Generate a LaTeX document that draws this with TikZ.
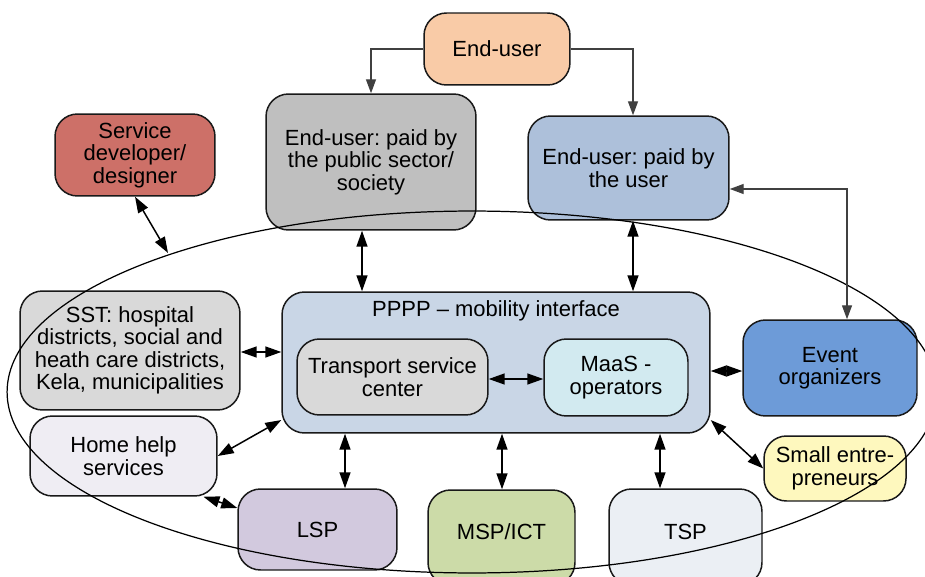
\documentclass[tikz,border=0pt]{standalone}
\usepackage{fontspec}
\setmainfont{Liberation Sans}
\frenchspacing
\usetikzlibrary{arrows.meta}
% cores das caixas
\definecolor{corUser}{RGB}{249,203,167}
\definecolor{corPublico}{RGB}{191,191,191}
\definecolor{corPago}{RGB}{173,192,218}
\definecolor{corDev}{RGB}{205,112,104}
\definecolor{corCinza}{RGB}{217,217,217}
\definecolor{corPPPP}{RGB}{201,214,230}
\definecolor{corMaaS}{RGB}{210,234,240}
\definecolor{corEvento}{RGB}{109,155,216}
\definecolor{corCasa}{RGB}{239,237,243}
\definecolor{corPequeno}{RGB}{254,248,190}
\definecolor{corLSP}{RGB}{210,201,222}
\definecolor{corMSP}{RGB}{204,219,168}
\definecolor{corTSP}{RGB}{235,239,244}
\tikzset{
  caixa/.style={draw=black!90, line width=0.85pt, rounded corners=0.45cm,
    align=center, inner sep=0pt, font=\fontsize{12.5}{12.8}\selectfont},
  seta/.style={line width=0.85pt,
    {Triangle[length=0.32cm,width=0.22cm]}-{Triangle[length=0.32cm,width=0.22cm]}},
  setacinza/.style={draw=black!75, line width=0.8pt,
    -{Triangle[length=0.28cm,width=0.2cm]}},
  setacinzadupla/.style={draw=black!75, line width=0.8pt,
    {Triangle[length=0.28cm,width=0.2cm]}-{Triangle[length=0.28cm,width=0.2cm]}},
}
\begin{document}
\begin{tikzpicture}[x=0.02cm, y=-0.02cm]
  % Moldura da figura
  \clip (0,0) rectangle (925,577);
  % Usuarios no topo
  \node[caixa, fill=corUser, minimum width=2.92cm, minimum height=1.44cm] (enduser) at (497,49) {End-user};
  \node[caixa, fill=corPublico, minimum width=4.2cm, minimum height=2.72cm] (publico) at (371,162) {End-user: paid by\\the public sector/\\society};
  \node[caixa, fill=corPago, minimum width=4.02cm, minimum height=2.08cm] (pago) at (628.5,168) {End-user: paid by\\the user};
  \node[caixa, fill=corDev, minimum width=3.2cm, minimum height=1.64cm] (dev) at (135,155) {Service\\developer/\\designer};
  % Interface central
  \node[caixa, fill=corPPPP, minimum width=8.56cm, minimum height=2.82cm] (pppp) at (496,362.5) {};
  \node[font=\fontsize{12.5}{12.8}\selectfont] (ppppt) at (496,311) {PPPP – mobility interface};
  \node[caixa, fill=corCinza, minimum width=3.82cm, minimum height=1.52cm] (centro) at (392.5,377) {Transport service\\center};
  \node[caixa, fill=corMaaS, minimum width=2.88cm, minimum height=1.54cm] (maas) at (616,377.5) {MaaS -\\operators};
  % Atores laterais
  \node[caixa, fill=corCinza, minimum width=4.4cm, minimum height=2.38cm] (sst) at (130,350.5) {SST: hospital\\districts, social and\\heath care districts,\\Kela, municipalities};
  \node[caixa, fill=corCasa, minimum width=3.74cm, minimum height=1.6cm] (casa) at (123.5,456) {Home help\\services};
  \node[caixa, fill=corEvento, minimum width=3.48cm, minimum height=1.92cm] (evento) at (830,368) {Event\\organizers};
  \node[caixa, fill=corPequeno, minimum width=2.84cm, minimum height=1.3cm] (pequeno) at (835,468.5) {Small entre-\\preneurs};
  % Provedores embaixo
  \node[caixa, fill=corLSP, minimum width=3.18cm, minimum height=1.62cm] (lsp) at (317.5,529.5) {LSP};
  \node[caixa, fill=corMSP, minimum width=2.94cm, minimum height=1.9cm] (msp) at (501.5,537.5) {};
  \node[font=\fontsize{12.5}{12.8}\selectfont] (mspt) at (501.5,532) {MSP/ICT};
  \node[caixa, fill=corTSP, minimum width=3.06cm, minimum height=1.92cm] (tsp) at (685.5,537) {};
  \node[font=\fontsize{12.5}{12.8}\selectfont] (tspt) at (685.5,532) {TSP};
  % Elipse do ecossistema
  \draw[line width=0.7pt] (472,392) ellipse [x radius=9.3cm, y radius=3.62cm];
  \coordinate (elipse) at (168,253);
  % Setas cinzas do usuario
  \draw[setacinza] (enduser.west) -| (publico.north);
  \draw[setacinza] (enduser.east) -| (pago.north -| 633,0);
  \draw[setacinzadupla] (pago.east |- 0,189) -| (evento.north -| 847,0);
  % Setas duplas
  \draw[seta] (dev.south) -- (elipse);
  \draw[seta] (publico.south -| 362,0) -- (pppp.north -| 362,0);
  \draw[seta] (pago.south -| 633,0) -- (pppp.north -| 633,0);
  \draw[seta] (sst.east |- 0,352) -- (pppp.west |- 0,352);
  \draw[seta] (centro.east |- 0,379) -- (maas.west |- 0,379);
  \draw[seta] (pppp.east |- 0,371) -- (evento.west |- 0,371);
  \draw[seta] (casa.east) -- (pppp.195);
  \draw[seta] (casa.-27) -- (lsp.165);
  \draw[seta] (pppp.-15) -- (pequeno.west);
  \draw[seta] (pppp.south -| 345,0) -- (lsp.north -| 345,0);
  \draw[seta] (pppp.south -| 502,0) -- (msp.north -| 502,0);
  \draw[seta] (pppp.south -| 660,0) -- (tsp.north -| 660,0);
\end{tikzpicture}
\end{document}
